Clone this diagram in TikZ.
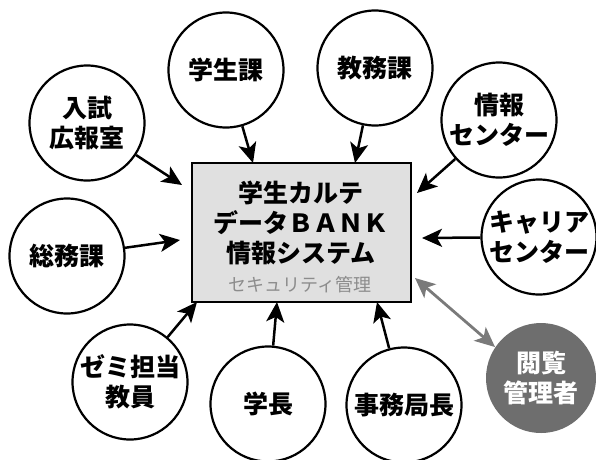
\documentclass[tikz,border=0pt]{standalone}
\usepackage{fontspec}
\setmainfont{Noto Sans CJK JP}
\usetikzlibrary{arrows.meta}
\definecolor{boxfill}{HTML}{E0E0E0}
\definecolor{subgray}{HTML}{8C8C8C}
\definecolor{darkcirc}{HTML}{6E6E6E}
\definecolor{linkgray}{HTML}{7A7A7A}
\begin{document}
\begin{tikzpicture}[x=1pt,y=-1pt,
  unit/.style={circle,draw=black,line width=2.2pt,fill=white,minimum size=115pt,inner sep=0pt,
    align=center,font=\fontsize{25}{30}\selectfont\bfseries},
  admin/.style={circle,fill=darkcirc,minimum size=110pt,inner sep=0pt,text=white,
    align=center,font=\fontsize{25}{30}\selectfont\bfseries},
  core/.style={draw=black,line width=2.2pt,fill=boxfill,minimum width=219pt,minimum height=139pt,inner sep=0pt},
  feed/.style={line width=2.5pt,-{Stealth[length=20pt,width=18pt,inset=5pt]}},
  link/.style={line width=2.8pt,draw=linkgray,{Stealth[length=20pt,width=18pt,inset=5pt]}-{Stealth[length=20pt,width=18pt,inset=5pt]}}
]
\useasboundingbox (0,0) rectangle (596,459);
\node[core] (box) at (301.5,232.5) {};
\node[font=\fontsize{25}{30}\selectfont\bfseries,align=center] (title) at (301,223) {学生カルテ\\データＢＡＮＫ\\情報システム};
\node[font=\fontsize{18}{20}\selectfont,text=subgray] (sec) at (300,285) {セキュリティ管理};

\node[unit] (gakusei) at (226,70) {学生課};
\node[unit] (nyushi) at (87,123) {入試\\広報室};
\node[unit] (kyomu) at (375,68) {教務課};
\node[unit] (joho) at (499,120) {情報\\センター};
\node[unit] (somu) at (67,256) {総務課};
\node[unit] (career) at (539,237) {キャリア\\センター};
\node[unit] (zemi) at (130,382) {ゼミ担当\\教員};
\node[unit] (gakucho) at (268,404) {学長};
\node[unit] (jimu) at (404,405) {事務局長};
\node[admin] (etsuran) at (541,378) {閲覧\\管理者};

\coordinate (t1) at (253,163);
\coordinate (t2) at (182,185);
\coordinate (t3) at (355,163);
\coordinate (t4) at (417,193);
\coordinate (t5) at (180,240);
\coordinate (t6) at (422,238);
\coordinate (t7) at (197,302);
\coordinate (t8) at (277,302);
\coordinate (t9) at (377,302);
\coordinate (a1) at (415,278);
\coordinate (a2) at (495,347);

\draw[feed] (gakusei) -- (t1);
\draw[feed] (nyushi) -- (t2);
\draw[feed] (kyomu) -- (t3);
\draw[feed] (joho) -- (t4);
\draw[feed] (somu) -- (t5);
\draw[feed] (career) -- (t6);
\draw[feed] (zemi) -- (t7);
\draw[feed] (gakucho) -- (t8);
\draw[feed] (jimu) -- (t9);
\draw[link] (a1) -- (a2);
\end{tikzpicture}
\end{document}
